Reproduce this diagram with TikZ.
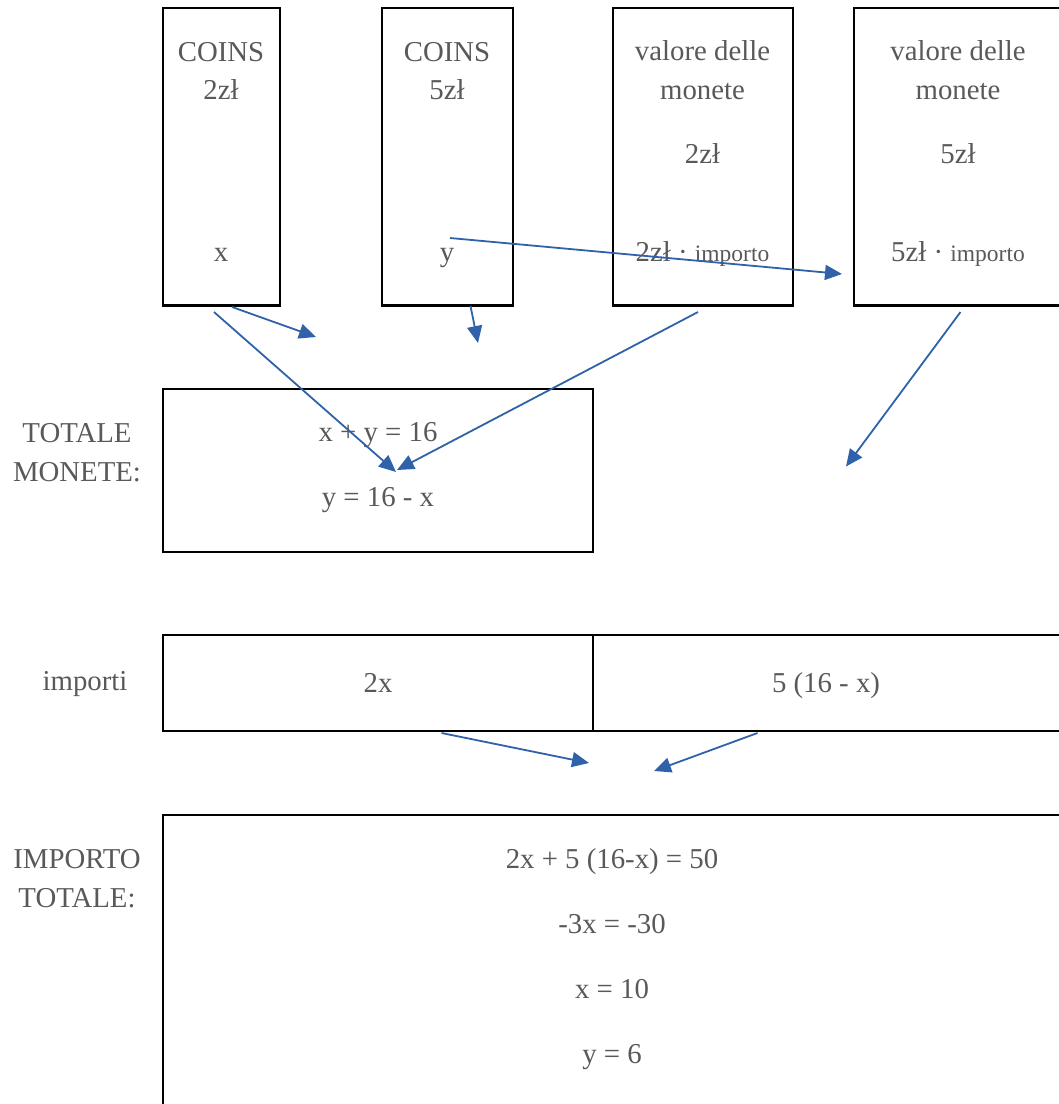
\documentclass[tikz,border=0pt]{standalone}
\usepackage{fontspec}
\setmainfont{Liberation Serif}
\usetikzlibrary{arrows.meta}
\definecolor{ink}{RGB}{89,89,89}
\definecolor{flow}{RGB}{47,98,168}
\newcommand{\smallword}[1]{{\fontsize{23.5}{28}\selectfont #1}}

\begin{document}
\begin{tikzpicture}[x=1pt,y=-1pt,
  panel/.style={draw=black,line width=2.2pt,inner sep=0pt},
  txt/.style={text=ink,font=\fontsize{28.8}{38.5}\selectfont,anchor=base,inner sep=0pt},
  link/.style={draw=flow,line width=1.8pt,-{Triangle[length=17pt,width=15pt]}}]

\clip (0,0) rectangle (1059,1104);

% --- top row of panels ---
\node[panel,minimum width=117pt,minimum height=297.5pt] (coinsA) at (221.5,156.75) {};
\node[panel,minimum width=131.3pt,minimum height=297.5pt] (coinsB) at (447.35,156.75) {};
\node[panel,minimum width=180.3pt,minimum height=297.5pt] (valA) at (702.85,156.75) {};
\node[panel,minimum width=215.7pt,minimum height=297.5pt] (valB) at (962.15,156.75) {};

\node[txt] (tA1) at (221,61) {COINS};
\node[txt] (tA2) at (221,99) {2zł};
\node[txt] (tA3) at (221,261) {x};
\node[txt] (tB1) at (447,61) {COINS};
\node[txt] (tB2) at (447,99) {5zł};
\node[txt] (tB3) at (447,261) {y};
\node[txt] (tC1) at (702.5,60) {valore delle};
\node[txt] (tC2) at (702.5,99) {monete};
\node[txt] (tC3) at (702.5,163) {2zł};
\node[txt] (tC4) at (702.5,261) {2zł · \smallword{importo}};
\node[txt] (tD1) at (958,60) {valore delle};
\node[txt] (tD2) at (958,99) {monete};
\node[txt] (tD3) at (958,163) {5zł};
\node[txt] (tD4) at (958,261) {5zł · \smallword{importo}};

% --- total number of coins ---
\node[panel,minimum width=430.3pt,minimum height=162.7pt] (total) at (377.85,470.35) {};
\node[txt] (lT1) at (77,442) {TOTALE};
\node[txt] (lT2) at (77,481) {MONETE:};
\node[txt] (eq1) at (378,441) {x + y = 16};
\node[txt] (eq2) at (378,506) {y = 16 - x};

% --- amounts row ---
\node[panel,minimum width=430.3pt,minimum height=96pt] (amtA) at (377.85,683) {};
\node[panel,minimum width=477pt,minimum height=96pt] (amtB) at (831.5,683) {};
\node[txt] (lI) at (85,690) {importi};
\node[txt] (amt1) at (378,692) {2x};
\node[txt] (amt2) at (826,692) {5 (16 - x)};

% --- total amount ---
\node[panel,minimum width=907.3pt,minimum height=305pt] (sum) at (616.35,967.5) {};
\node[txt] (lS1) at (77,868) {IMPORTO};
\node[txt] (lS2) at (77,907) {TOTALE:};
\node[txt] (s1) at (612,868) {2x + 5 (16-x) = 50};
\node[txt] (s2) at (612,933) {-3x = -30};
\node[txt] (s3) at (612,998) {x = 10};
\node[txt] (s4) at (612,1063) {y = 6};

% --- connector ends ---
\coordinate (r1s) at (232,307);   \coordinate (r1e) at (316,337);
\coordinate (r2s) at (214,312);   \coordinate (r2e) at (396,472);
\coordinate (r3s) at (470.5,306); \coordinate (r3e) at (478,343);
\coordinate (r4s) at (450,238);   \coordinate (r4e) at (842,274);
\coordinate (r5s) at (698,312);   \coordinate (r5e) at (397,470);
\coordinate (r6s) at (960.5,312); \coordinate (r6e) at (846,466.5);
\coordinate (r7s) at (441.5,733); \coordinate (r7e) at (589,763);
\coordinate (r8s) at (757.5,733); \coordinate (r8e) at (654,771);

\draw[link] (r1s) -- (r1e);
\draw[link] (r2s) -- (r2e);
\draw[link] (r3s) -- (r3e);
\draw[link] (r4s) -- (r4e);
\draw[link] (r5s) -- (r5e);
\draw[link] (r6s) -- (r6e);
\draw[link] (r7s) -- (r7e);
\draw[link] (r8s) -- (r8e);
\end{tikzpicture}
\end{document}
